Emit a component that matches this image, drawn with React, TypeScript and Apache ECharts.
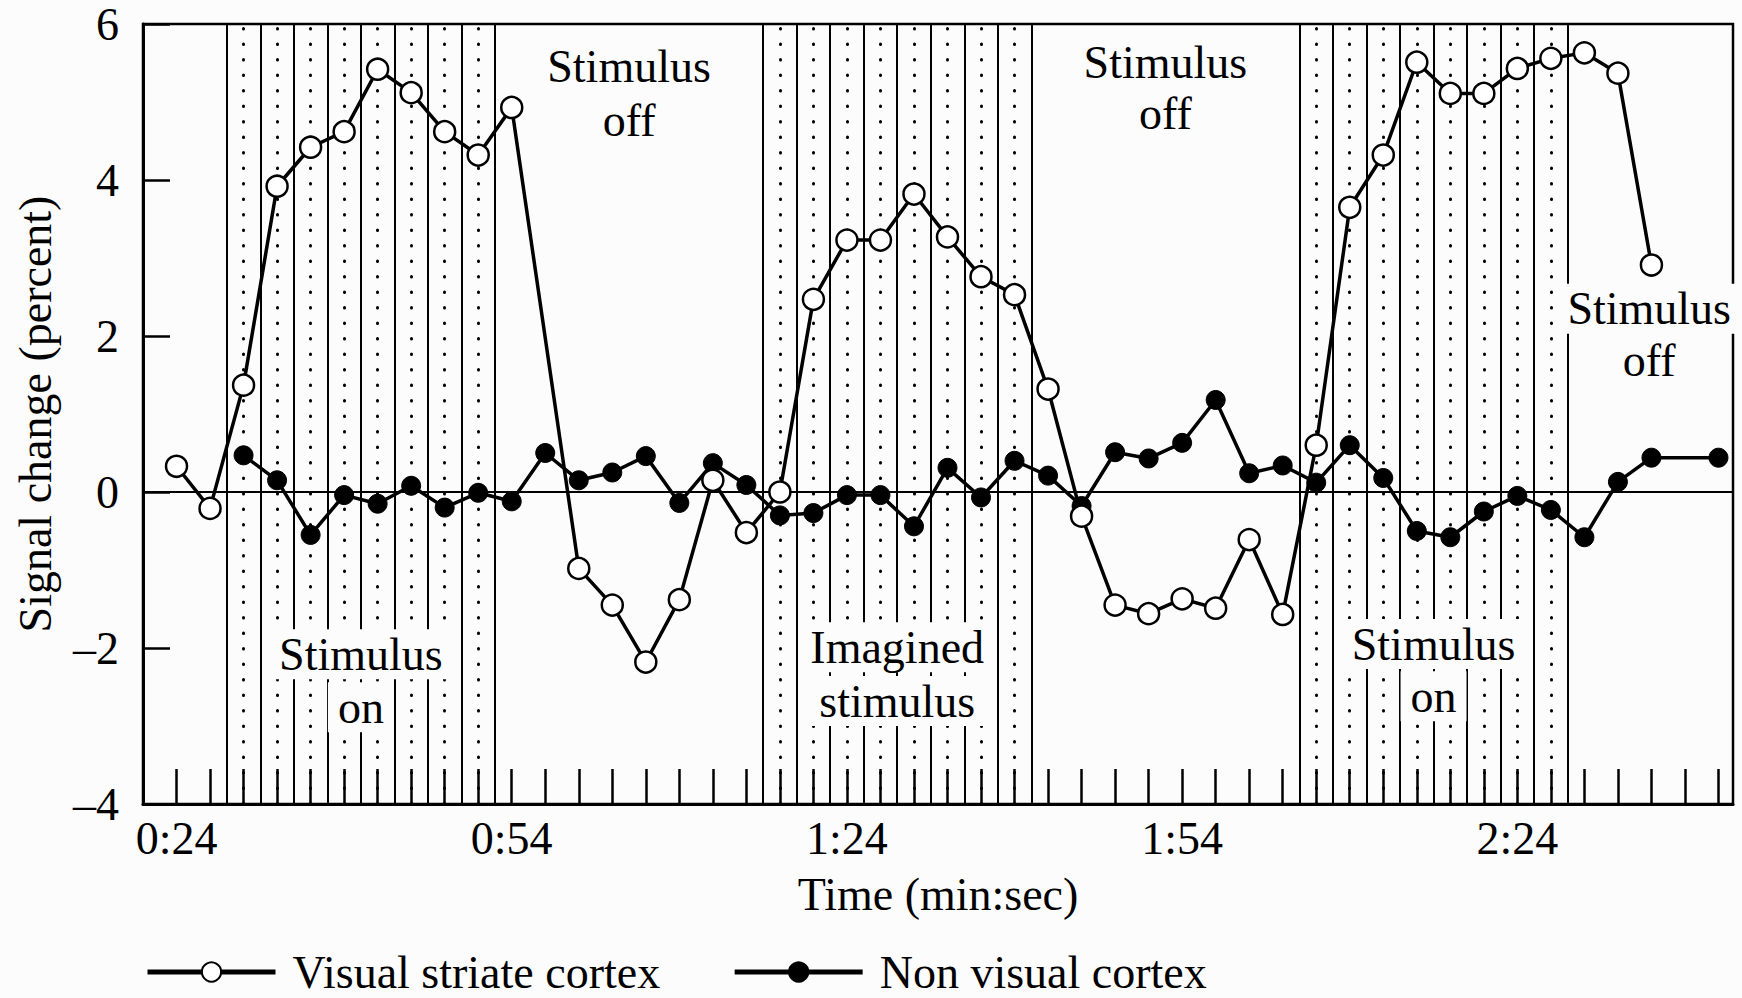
import React, { useEffect, useRef } from "react";
import * as echarts from "echarts";

// ---- data (time in seconds, signal change in percent) ----
const visualTimes = [24, 27, 30, 33, 36, 39, 42, 45, 48, 51, 54, 60, 63, 66, 69, 72, 75, 78, 81, 84, 87, 90, 93, 96, 99, 102, 105, 108, 111, 114, 117, 120, 123, 126, 129, 132, 135, 138, 141, 144, 147, 150, 153, 156];
const visualValues = [0.33, -0.21, 1.37, 3.92, 4.42, 4.62, 5.42, 5.12, 4.62, 4.32, 4.93, -0.98, -1.45, -2.18, -1.38, 0.15, -0.52, 0.0, 2.47, 3.23, 3.23, 3.82, 3.27, 2.76, 2.53, 1.32, -0.31, -1.45, -1.56, -1.37, -1.49, -0.61, -1.57, 0.6, 3.65, 4.32, 5.51, 5.11, 5.11, 5.43, 5.56, 5.63, 5.37, 2.91];

const nonVisualTimes = [30, 33, 36, 39, 42, 45, 48, 51, 54, 57, 60, 63, 66, 69, 72, 75, 78, 81, 84, 87, 90, 93, 96, 99, 102, 105, 108, 111, 114, 117, 120, 123, 126, 129, 132, 135, 138, 141, 144, 147, 150, 153, 156, 162];
const nonVisualValues = [0.47, 0.15, -0.55, -0.04, -0.15, 0.08, -0.2, -0.01, -0.12, 0.5, 0.15, 0.25, 0.46, -0.14, 0.37, 0.09, -0.3, -0.27, -0.04, -0.04, -0.44, 0.31, -0.07, 0.4, 0.21, -0.18, 0.51, 0.43, 0.63, 1.18, 0.24, 0.34, 0.12, 0.6, 0.18, -0.5, -0.58, -0.25, -0.05, -0.23, -0.58, 0.13, 0.44, 0.44];

const seriesNames = ["Visual striate cortex", "Non visual cortex"];

// stimulus blocks: start time (s), 8 columns of 3 s each
const blockStarts = [28.5, 76.5, 124.5];
const blockColumns = 8;
const columnSeconds = 3;

const labeledTimes = [24, 54, 84, 114, 144];

// annotation texts, anchored in data coordinates (time, value) per line
const annotations = [
  { lines: ["Stimulus", "on"], t: 40.5, v: [-2.08, -2.76] },
  { lines: ["Stimulus", "off"], t: 64.5, v: [5.46, 4.76] },
  { lines: ["Imagined", "stimulus"], t: 88.5, v: [-1.99, -2.68] },
  { lines: ["Stimulus", "off"], t: 112.5, v: [5.51, 4.85] },
  { lines: ["Stimulus", "on"], t: 136.5, v: [-1.95, -2.62] },
  { lines: ["Stimulus", "off"], t: 155.8, v: [2.35, 1.68] },
];

const FONT = "'Liberation Serif', 'Times New Roman', serif";
const BG = "#fcfcfc";

function fmtTime(v: number): string {
  const m = Math.floor(v / 60);
  const s = Math.round(v - m * 60);
  return `${m}:${s < 10 ? "0" + s : s}`;
}

export default function App() {
  const ref = useRef<HTMLDivElement>(null);

  useEffect(() => {
    if (!ref.current) return;
    const chart = echarts.init(ref.current, null, { renderer: "svg" });

    const solidLines: number[] = [];
    const dottedLines: number[] = [];
    blockStarts.forEach((s) => {
      for (let k = 0; k <= blockColumns; k++) solidLines.push(s + k * columnSeconds);
      for (let k = 0; k < blockColumns; k++) dottedLines.push(s + columnSeconds / 2 + k * columnSeconds);
    });

    const option: any = {
      animation: false,
      backgroundColor: BG,
      textStyle: { fontFamily: FONT, color: "#000" },
      grid: {
        left: 143,
        right: 9,
        top: 24,
        bottom: 194,
        show: true,
        borderColor: "#000",
        borderWidth: 2.5,
        backgroundColor: "transparent",
      },
      legend: {
        left: 140,
        top: 944,
        itemWidth: 128,
        itemHeight: 24,
        itemGap: 72,
        selectedMode: false,
        data: seriesNames,
        lineStyle: { width: 5 },
        textStyle: { fontFamily: FONT, fontSize: 46, color: "#000", padding: [0, 0, 0, 12] },
      },
      xAxis: {
        type: "value",
        min: 21,
        max: 163.3,
        interval: 3,
        name: "Time (min:sec)",
        nameLocation: "middle",
        nameGap: 67,
        nameTextStyle: { fontFamily: FONT, fontSize: 46, color: "#000" },
        axisLine: { show: true, onZero: false, lineStyle: { color: "#000", width: 3 } },
        axisTick: { show: true, inside: true, length: 35, lineStyle: { color: "#000", width: 2.5 } },
        axisLabel: {
          margin: 11,
          fontFamily: FONT,
          fontSize: 46,
          color: "#000",
          showMinLabel: true,
          showMaxLabel: false,
          formatter: (v: number) => (labeledTimes.indexOf(Math.round(v * 10) / 10) >= 0 ? fmtTime(v) : ""),
        },
        splitLine: { show: false },
      },
      yAxis: {
        type: "value",
        min: -4,
        max: 6,
        interval: 2,
        name: "Signal change (percent)",
        nameLocation: "middle",
        nameGap: 85,
        nameTextStyle: { fontFamily: FONT, fontSize: 46, color: "#000" },
        axisLine: { show: true, onZero: false, lineStyle: { color: "#000", width: 3 } },
        axisTick: { show: true, inside: true, length: 27, lineStyle: { color: "#000", width: 2.5 } },
        axisLabel: {
          margin: 24,
          fontFamily: FONT,
          fontSize: 46,
          color: "#000",
          formatter: (v: number) => (v < 0 ? "\u2013" + Math.abs(v) : String(v)),
        },
        splitLine: { show: false },
      },
      series: [
        {
          name: "blocks",
          type: "line",
          data: [],
          z: 1,
          silent: true,
          markLine: {
            silent: true,
            symbol: ["none", "none"],
            label: { show: false },
            emphasis: { disabled: true },
            lineStyle: { color: "#000", width: 2, type: "solid" },
            data: [
              ...solidLines.map((x) => ({ xAxis: x })),
              ...dottedLines.map((x) => ({
                xAxis: x,
                lineStyle: { color: "#000", width: 3, type: [0.5, 15], cap: "round" },
              })),
              { yAxis: 0, lineStyle: { color: "#000", width: 2, type: "solid" } },
            ],
          },
        },
        {
          name: seriesNames[1],
          type: "line",
          z: 10,
          data: nonVisualTimes.map((t, i) => [t, nonVisualValues[i]]),
          symbol: "circle",
          symbolSize: 19,
          showAllSymbol: true,
          itemStyle: { color: "#000", borderColor: "#000", borderWidth: 1 },
          lineStyle: { color: "#000", width: 3.5 },
          emphasis: { disabled: true },
        },
        {
          name: seriesNames[0],
          type: "line",
          z: 11,
          data: visualTimes.map((t, i) => [t, visualValues[i]]),
          symbol: "circle",
          symbolSize: 21,
          showAllSymbol: true,
          itemStyle: { color: "#fff", borderColor: "#000", borderWidth: 2.5 },
          lineStyle: { color: "#000", width: 3.5 },
          emphasis: { disabled: true },
        },
      ],
    };

    chart.setOption(option);

    const elements: any[] = [];
    annotations.forEach((a) => {
      a.lines.forEach((line, j) => {
        const p = chart.convertToPixel({ gridIndex: 0 } as any, [a.t, a.v[j]]) as number[];
        elements.push({
          type: "text",
          x: p[0],
          y: p[1],
          z: 5,
          silent: true,
          style: {
            text: line,
            fontFamily: FONT,
            fontSize: 46,
            fill: "#000",
            align: "center",
            verticalAlign: "middle",
            backgroundColor: BG,
            padding: [2, 10],
          },
        });
      });
    });
    chart.setOption({ graphic: { elements } });

    return () => chart.dispose();
  }, []);

  return (
    <div
      ref={ref}
      style={{ position: "fixed", left: 0, top: 0, width: 1742, height: 998 }}
    />
  );
}
